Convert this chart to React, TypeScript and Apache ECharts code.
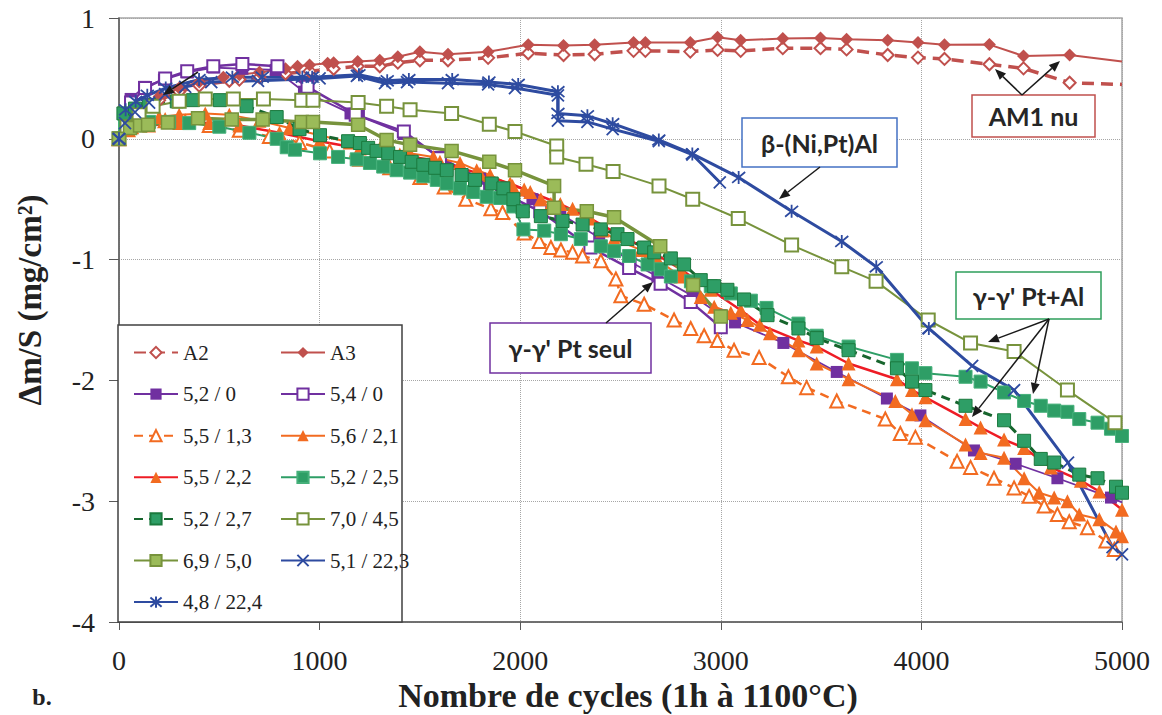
import React, { useEffect, useRef } from "react";
import * as echarts from "echarts";

// ---- data: [cycles, Δm/S] ----
const a2: number[][] = [[0,0],[50,0.13],[100,0.22],[200,0.32],[300,0.39],[400,0.44],[550,0.48],[600,0.49],[700,0.51],[830,0.54],[950,0.56],[1070,0.58],[1190,0.6],[1300,0.6],[1390,0.63],[1500,0.65],[1640,0.65],[1840,0.67],[2040,0.708],[2216,0.694],[2371,0.7],[2565,0.728],[2624,0.728],[2848,0.722],[2984,0.736],[3099,0.728],[3309,0.75],[3497,0.75],[3627,0.74],[3832,0.694],[3983,0.672],[4115,0.661],[4339,0.617],[4509,0.583],[4739,0.464],[5000,0.45]];
const a3: number[][] = [[0,0],[50,0.15],[100,0.25],[200,0.35],[300,0.42],[400,0.47],[520,0.51],[600,0.53],[700,0.55],[830,0.58],[890,0.6],[950,0.61],[1040,0.625],[1070,0.63],[1190,0.64],[1300,0.65],[1390,0.68],[1500,0.72],[1640,0.7],[1840,0.72],[2040,0.778],[2216,0.772],[2371,0.778],[2565,0.797],[2624,0.797],[2848,0.797],[2984,0.84],[3099,0.815],[3309,0.83],[3497,0.835],[3627,0.825],[3832,0.815],[3983,0.797],[4115,0.778],[4339,0.78],[4509,0.686],[4739,0.694],[5000,0.639]];
const s52_0: number[][] = [[0,0],[58,0.33],[125,0.43],[224,0.49],[340,0.55],[473,0.59],[615,0.58],[781,0.57],[922,0.39],[1154,0.21],[1196,0.19],[1420,0.04],[1600,-0.15],[1800,-0.33],[2061,-0.5],[2200,-0.62],[2394,-0.82],[2550,-1.02],[2684,-1.14],[2860,-1.3],[3000,-1.46],[3071,-1.52],[3312,-1.69],[3578,-1.93],[3828,-2.15],[3995,-2.29],[4262,-2.58],[4470,-2.69],[4678,-2.81],[4945,-2.97],[5000,-3.01]];
const s54_0: number[][] = [[0,0],[60,0.3],[130,0.42],[230,0.5],[340,0.56],[470,0.6],[615,0.62],[790,0.6],[940,0.43],[1180,0.2],[1420,0.06],[1600,-0.16],[1850,-0.4],[2100,-0.6],[2350,-0.9],[2543,-1.07],[2700,-1.2],[2850,-1.35],[3000,-1.56]];
const s55_13: number[][] = [[0,0],[60,0.1],[130,0.14],[230,0.15],[330,0.14],[450,0.11],[600,0.07],[750,0.02],[900,-0.03],[1050,-0.1],[1200,-0.17],[1350,-0.24],[1500,-0.32],[1621,-0.4],[1729,-0.5],[1854,-0.58],[1912,-0.61],[2020,-0.78],[2095,-0.85],[2153,-0.9],[2203,-0.92],[2261,-0.94],[2311,-0.97],[2402,-1.01],[2477,-1.16],[2502,-1.3],[2618,-1.37],[2767,-1.5],[2850,-1.57],[2917,-1.63],[2983,-1.67],[3066,-1.75],[3191,-1.81],[3337,-1.97],[3428,-2.06],[3578,-2.17],[3820,-2.32],[3895,-2.44],[3970,-2.47],[4178,-2.67],[4245,-2.72],[4362,-2.81],[4462,-2.89],[4537,-2.96],[4612,-3.04],[4678,-3.11],[4737,-3.17],[4828,-3.22],[4920,-3.33],[4962,-3.4]];
const s56_21: number[][] = [[0,0],[50,0.1],[120,0.15],[200,0.18],[300,0.2],[430,0.21],[550,0.2],[700,0.15],[850,0.09],[1000,0.03],[1150,-0.03],[1300,-0.08],[1450,-0.12],[1567,-0.15],[1700,-0.2],[1783,-0.26],[1850,-0.3],[1962,-0.39],[2020,-0.42],[2103,-0.5],[2153,-0.54],[2261,-0.58],[2336,-0.64],[2410,-0.76],[2468,-0.83],[2601,-0.92],[2684,-1.0],[2800,-1.14],[2900,-1.31],[2967,-1.39],[3050,-1.44],[3133,-1.5],[3245,-1.61],[3387,-1.75],[3478,-1.86],[3637,-1.99],[3870,-2.17],[3953,-2.28],[4020,-2.33],[4220,-2.53],[4295,-2.6],[4412,-2.64],[4512,-2.81],[4587,-2.93],[4662,-2.97],[4728,-3.0],[4787,-3.11],[4887,-3.15],[4970,-3.25],[5000,-3.29]];
const s55_22: number[][] = [[0,0],[50,0.07],[150,0.11],[300,0.13],[450,0.13],[600,0.11],[800,0.05],[1000,-0.02],[1200,-0.08],[1400,-0.13],[1600,-0.19],[1800,-0.29],[1950,-0.37],[2050,-0.44],[2200,-0.54],[2350,-0.66],[2500,-0.8],[2650,-0.93],[2800,-1.08],[2950,-1.25],[3100,-1.42],[3195,-1.54],[3387,-1.67],[3478,-1.72],[3637,-1.86],[3878,-1.99],[3953,-2.08],[4020,-2.14],[4220,-2.32],[4295,-2.39],[4412,-2.49],[4512,-2.56],[4645,-2.72],[4795,-2.83],[4887,-2.92],[5000,-3.07]];
const s52_25: number[][] = [[0,0],[30,0.1],[80,0.13],[150,0.14],[250,0.14],[350,0.13],[500,0.1],[650,0.05],[786,0.0],[836,-0.07],[877,-0.09],[1002,-0.12],[1092,-0.15],[1185,-0.17],[1251,-0.2],[1317,-0.23],[1384,-0.26],[1451,-0.28],[1517,-0.31],[1584,-0.34],[1634,-0.37],[1700,-0.41],[1766,-0.44],[1833,-0.48],[1900,-0.49],[1966,-0.56],[2016,-0.75],[2120,-0.76],[2203,-0.79],[2302,-0.83],[2402,-0.89],[2468,-0.93],[2543,-0.97],[2635,-1.04],[2701,-1.08],[2751,-1.14],[2851,-1.18],[2950,-1.22],[3050,-1.28],[3150,-1.34],[3228,-1.4],[3387,-1.53],[3478,-1.63],[3637,-1.72],[3878,-1.83],[3953,-1.9],[4020,-1.94],[4220,-1.97],[4295,-2.01],[4412,-2.1],[4512,-2.17],[4595,-2.21],[4662,-2.25],[4728,-2.26],[4787,-2.32],[4878,-2.35],[4945,-2.4],[5000,-2.46]];
const s52_27: number[][] = [[0,0],[22,0.21],[80,0.25],[150,0.28],[288,0.31],[369,0.32],[503,0.32],[636,0.27],[786,0.18],[900,0.08],[1002,0.03],[1142,-0.02],[1201,-0.035],[1242,-0.075],[1284,-0.1],[1342,-0.12],[1401,-0.15],[1459,-0.19],[1517,-0.215],[1576,-0.24],[1634,-0.26],[1708,-0.3],[1775,-0.34],[1858,-0.37],[1916,-0.41],[1966,-0.5],[2013,-0.6],[2103,-0.64],[2211,-0.68],[2311,-0.71],[2402,-0.75],[2485,-0.79],[2535,-0.83],[2618,-0.9],[2668,-0.94],[2751,-0.99],[2817,-1.04],[2900,-1.17],[2967,-1.22],[3033,-1.25],[3116,-1.33],[3233,-1.46],[3387,-1.57],[3478,-1.65],[3637,-1.75],[3878,-1.9],[3953,-2.01],[4020,-2.08],[4220,-2.21],[4412,-2.33],[4512,-2.5],[4595,-2.65],[4662,-2.68],[4787,-2.78],[4878,-2.81],[4970,-2.88],[5000,-2.93]];
const s70_45: number[][] = [[0,0],[40,0.1],[100,0.2],[170,0.27],[300,0.31],[430,0.33],[570,0.33],[720,0.33],[911,0.32],[967,0.32],[1192,0.3],[1334,0.27],[1451,0.24],[1658,0.21],[1846,0.12],[1974,0.06],[2182,-0.06],[2182,-0.15],[2328,-0.21],[2463,-0.27],[2692,-0.39],[2860,-0.5],[3087,-0.66],[3353,-0.88],[3603,-1.06],[3774,-1.18],[4034,-1.5],[4245,-1.69],[4462,-1.76],[4728,-2.08],[4965,-2.35],[5000,-2.39]];
const s69_50: number[][] = [[0,0],[55,0.09],[105,0.11],[145,0.116],[244,0.135],[394,0.17],[562,0.16],[716,0.16],[911,0.14],[967,0.14],[1192,0.116],[1334,-0.01],[1451,-0.05],[1658,-0.1],[1846,-0.19],[1974,-0.26],[2169,-0.39],[2169,-0.57],[2332,-0.6],[2468,-0.65],[2698,-0.89],[2862,-1.21],[3000,-1.47]];
const s51_223a: number[][] = [[0,0],[30,0.13],[80,0.22],[150,0.3],[230,0.37],[330,0.43],[460,0.47],[693,0.48],[1000,0.5],[1186,0.52],[1326,0.46],[1436,0.47],[1640,0.46],[1840,0.45],[1974,0.42],[2188,0.36],[2188,0.15],[2335,0.14],[2461,0.08],[2691,-0.02],[2858,-0.13],[2995,-0.36]];
const s51_223b: number[][] = [[4037,-1.57],[4253,-1.88],[4462,-2.08],[4731,-2.68],[4953,-3.38],[5000,-3.44]];
const s48_224: number[][] = [[0,0],[33,0.24],[83,0.31],[141,0.36],[233,0.42],[399,0.49],[565,0.51],[714,0.51],[914,0.51],[963,0.51],[1196,0.53],[1337,0.48],[1445,0.49],[1661,0.49],[1844,0.47],[1990,0.45],[2188,0.39],[2188,0.21],[2335,0.19],[2461,0.125],[2691,-0.01],[2858,-0.125],[3089,-0.32],[3353,-0.6],[3603,-0.85],[3775,-1.06],[4037,-1.57]];

const xTicks = [0, 1000, 2000, 3000, 4000, 5000];
const yTicks = [-4, -3, -2, -1, 0, 1];

const legendLeft = ["A2", "5,2 / 0", "5,5 / 1,3", "5,5 / 2,2", "5,2 / 2,7", "6,9 / 5,0", "4,8 / 22,4"];
const legendRight = ["A3", "5,4 / 0", "5,6 / 2,1", "5,2 / 2,5", "7,0 / 4,5", "5,1 / 22,3"];

const RED = "#C0504D";
const PURPLE = "#7030A0";
const ORANGE = "#F26B21";
const BRIGHTRED = "#EE1C25";
const GREEN = "#2E9E66";
const DKGREEN = "#17652D";
const OLIVE = "#77933C";
const OLIVEFILL = "#9BBB59";
const BLUE = "#2E4BA0";

const XSYM = "path://M0,0L10,10M10,0L0,10";
const ASTSYM = "path://M0,0L10,10M10,0L0,10M5,-1L5,11";

type Cfg = {
  name: string; data: number[][]; symbol: string; size: number; fill: string;
  border?: string; bw?: number; line: string; lw: number; dash?: number[]; openEnd?: boolean;
};

const cfgs: Cfg[] = [
  { name: "A2", data: a2, symbol: "emptyDiamond", size: 12, fill: RED, bw: 1.5, line: RED, lw: 3.5, dash: [12, 7], openEnd: true },
  { name: "A3", data: a3, symbol: "diamond", size: 13, fill: RED, line: RED, lw: 2, openEnd: true },
  { name: "5,2 / 0", data: s52_0, symbol: "rect", size: 12, fill: PURPLE, line: PURPLE, lw: 1.8, openEnd: true },
  { name: "5,4 / 0", data: s54_0, symbol: "emptyRect", size: 12, fill: PURPLE, bw: 1.5, line: PURPLE, lw: 2.5 },
  { name: "5,5 / 1,3", data: s55_13, symbol: "emptyTriangle", size: 13, fill: ORANGE, bw: 1.3, line: ORANGE, lw: 2.5, dash: [9, 6] },
  { name: "5,6 / 2,1", data: s56_21, symbol: "triangle", size: 14, fill: ORANGE, line: ORANGE, lw: 2 },
  { name: "5,5 / 2,2", data: s55_22, symbol: "triangle", size: 14, fill: ORANGE, line: BRIGHTRED, lw: 2.5 },
  { name: "5,2 / 2,5", data: s52_25, symbol: "rect", size: 13, fill: GREEN, border: "#45B07A", bw: 1, line: GREEN, lw: 2 },
  { name: "5,2 / 2,7", data: s52_27, symbol: "rect", size: 13, fill: GREEN, border: "#1B7A3E", bw: 1, line: DKGREEN, lw: 3, dash: [9, 6] },
  { name: "7,0 / 4,5", data: s70_45, symbol: "emptyRect", size: 13, fill: OLIVE, bw: 1.5, line: OLIVE, lw: 2, openEnd: true },
  { name: "6,9 / 5,0", data: s69_50, symbol: "rect", size: 13, fill: OLIVEFILL, border: OLIVE, bw: 1.5, line: OLIVE, lw: 3.5 },
  { name: "5,1 / 22,3", data: s51_223a, symbol: XSYM, size: 12, fill: BLUE, border: BLUE, bw: 1.8, line: BLUE, lw: 3 },
  { name: "5,1 / 22,3", data: s51_223b, symbol: XSYM, size: 12, fill: BLUE, border: BLUE, bw: 1.8, line: BLUE, lw: 3 },
  { name: "4,8 / 22,4", data: s48_224, symbol: ASTSYM, size: 13, fill: BLUE, border: BLUE, bw: 1.8, line: BLUE, lw: 3 },
];

function arrow(x1: number, y1: number, x2: number, y2: number) {
  const dx = x2 - x1, dy = y2 - y1;
  const L = Math.hypot(dx, dy);
  const ux = dx / L, uy = dy / L;
  const hl = 11, hw = 4.5;
  const bx = x2 - ux * hl, by = y2 - uy * hl;
  return [
    { type: "line", z: 20, shape: { x1, y1, x2: bx, y2: by }, style: { stroke: "#1a1a1a", lineWidth: 1.5 } },
    { type: "polygon", z: 20, shape: { points: [[x2, y2], [bx - uy * hw, by + ux * hw], [bx + uy * hw, by - ux * hw]] }, style: { fill: "#1a1a1a" } },
  ];
}

function box(x: number, y: number, w: number, h: number, color: string, text: string) {
  return [
    { type: "rect", z: 20, shape: { x, y, width: w, height: h }, style: { fill: "#fff", stroke: color, lineWidth: 1.5 } },
    {
      type: "text", z: 21, x: x + w / 2, y: y + h / 2,
      style: { text, fill: "#262626", fontFamily: "Lato", fontWeight: "bold", fontSize: 25, align: "center", verticalAlign: "middle" },
    },
  ];
}

export default function App() {
  const ref = useRef<HTMLDivElement>(null);
  useEffect(() => {
    if (!ref.current) return;
    const chart = echarts.init(ref.current, undefined, { renderer: "svg" });
    const series = cfgs.map((c) => ({
      type: "line",
      name: c.name,
      data: c.data.map((p, i) => (c.openEnd && i === c.data.length - 1 ? { value: p, symbol: "none" } : p)),
      symbol: c.symbol,
      symbolSize: c.size,
      showSymbol: true,
      lineStyle: { color: c.line, width: c.lw, type: c.dash ? c.dash : "solid" },
      itemStyle: { color: c.fill, borderColor: c.border ?? c.fill, borderWidth: c.bw ?? 0 },
      emphasis: { disabled: true },
      clip: true,
    }));
    const legendBase = {
      orient: "vertical",
      top: 337,
      itemWidth: 44,
      itemHeight: 14,
      itemGap: 20.6,
      selectedMode: false,
      z: 8,
      textStyle: { fontFamily: "Liberation Serif", fontSize: 21, color: "#222", lineHeight: 21 },
    };
    chart.setOption({
      animation: false,
      backgroundColor: "#fff",
      grid: { left: 119, right: 40, top: 18, bottom: 93, show: true, borderColor: "#A6A6A6", borderWidth: 1.5 },
      xAxis: {
        type: "value", min: xTicks[0], max: xTicks[xTicks.length - 1], interval: 1000,
        axisLine: { onZero: false, lineStyle: { color: "#595959", width: 1.5 } },
        axisTick: { show: true, length: 8, lineStyle: { color: "#595959" } },
        splitLine: { show: true, lineStyle: { color: "#A6A6A6", type: "dotted", width: 1 } },
        axisLabel: { fontFamily: "Liberation Serif", fontSize: 28, color: "#222", margin: 24, formatter: (v: number) => String(v) },
      },
      yAxis: {
        type: "value", min: yTicks[0], max: yTicks[yTicks.length - 1], interval: 1,
        axisLine: { onZero: false, lineStyle: { color: "#595959", width: 1.5 } },
        axisTick: { show: true, length: 10, lineStyle: { color: "#595959" } },
        splitLine: { show: true, lineStyle: { color: "#A6A6A6", type: "dotted", width: 1 } },
        axisLabel: { fontFamily: "Liberation Serif", fontSize: 28, color: "#222", margin: 24, formatter: (v: number) => String(v) },
      },
      legend: [
        { ...legendBase, left: 128, data: legendLeft },
        { ...legendBase, left: 275, data: legendRight },
      ],
      graphic: [
        { type: "rect", z: 5, shape: { x: 118, y: 325, width: 284, height: 297 }, style: { fill: "#fff", stroke: "#404040", lineWidth: 1.5 } },
        ...box(972, 95, 123, 42, RED, "AM1 nu"),
        ...box(742, 118, 155, 49, "#4472C4", "β-(Ni,Pt)Al"),
        ...box(490, 323, 161, 50, PURPLE, "γ-γ' Pt seul"),
        ...box(956, 272, 145, 47, "#2E9E5B", "γ-γ' Pt+Al"),
        ...arrow(198, 72, 163, 95),
        ...arrow(1022, 95, 995, 69),
        ...arrow(1022, 95, 1060, 61),
        ...arrow(820, 167, 779, 199),
        ...arrow(606, 323, 653, 282),
        ...arrow(1049, 319, 988, 342),
        ...arrow(1049, 319, 972, 417),
        ...arrow(1049, 319, 1033, 394),
        {
          type: "text", z: 20, x: 628, y: 695,
          style: { text: "Nombre de cycles (1h à 1100°C)", fill: "#222", fontFamily: "Liberation Serif", fontWeight: "bold", fontSize: 34, align: "center", verticalAlign: "middle" },
        },
        {
          type: "text", z: 20, x: 30, y: 300, rotation: Math.PI / 2,
          style: { text: "Δm/S (mg/cm²)", fill: "#222", fontFamily: "Liberation Serif", fontWeight: "bold", fontSize: 33, align: "center", verticalAlign: "middle" },
        },
        {
          type: "text", z: 20, x: 42, y: 697,
          style: { text: "b.", fill: "#222", fontFamily: "Liberation Serif", fontWeight: "bold", fontSize: 24, align: "center", verticalAlign: "middle" },
        },
      ],
      series,
    });
    return () => chart.dispose();
  }, []);
  return <div ref={ref} style={{ position: "fixed", left: 0, top: 0, width: 1162, height: 715 }} />;
}
